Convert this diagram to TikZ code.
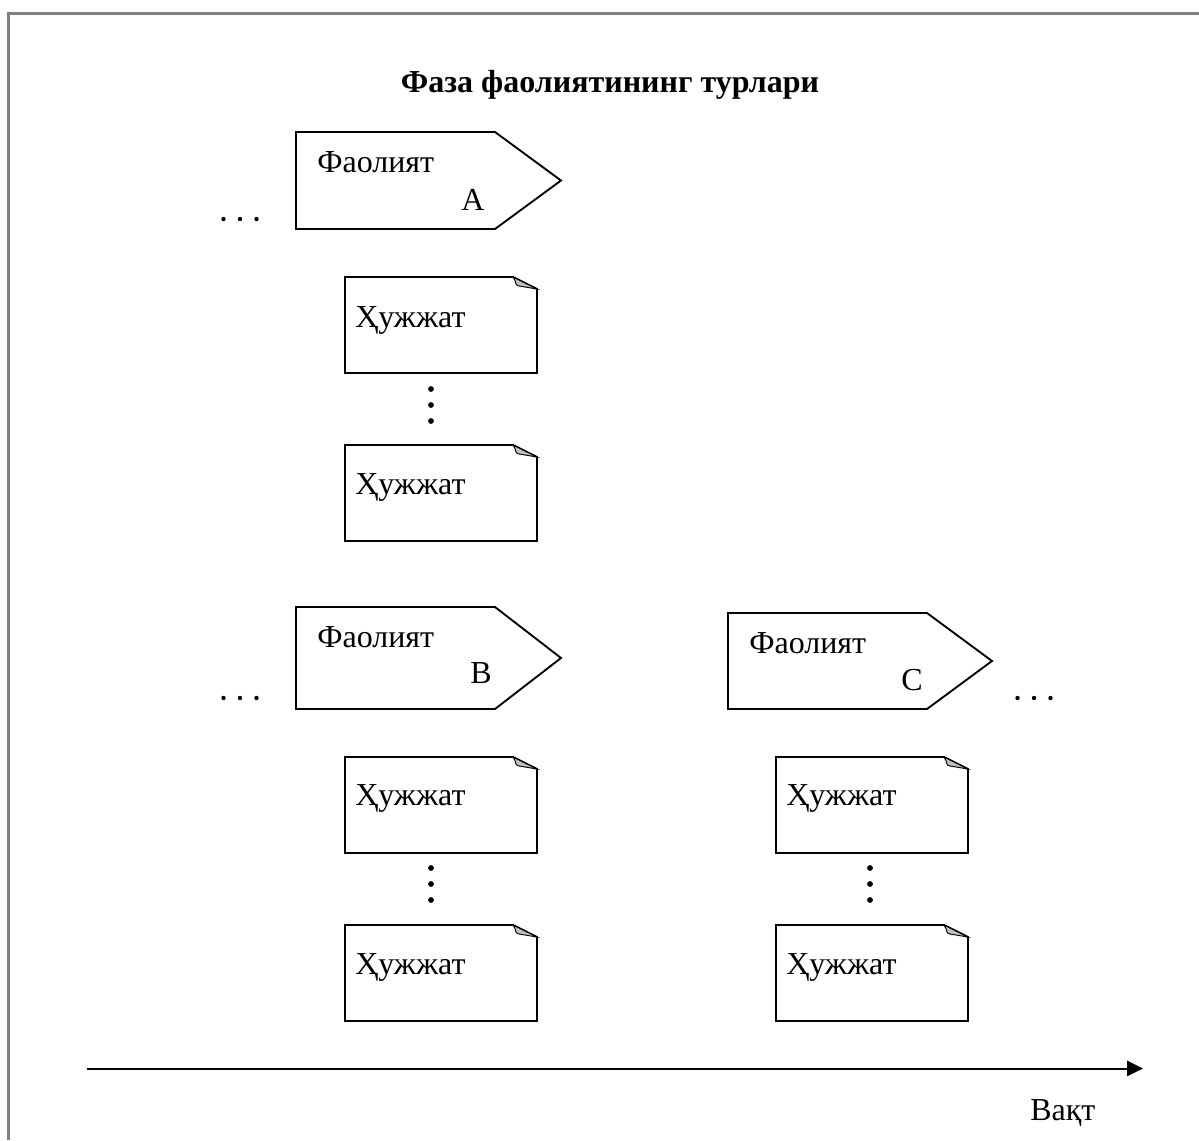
\documentclass[tikz,border=0pt]{standalone}
\usepackage{fontspec}
\setmainfont{Liberation Serif}
\usetikzlibrary{arrows.meta}
\tikzset{
  x=0.75pt,y=-0.75pt,
  shapeline/.style={draw=black,line width=1.4pt,fill=white,line join=miter},
  lbl/.style={inner sep=0pt,font=\fontsize{24}{28}\selectfont,anchor=base west},
  frameline/.style={draw=black!50,line width=1.9pt},
}
\newcommand{\doc}[4]{% name, x, y, baseline offset
  \draw[shapeline] (#2,#3) -- (#2+168,#3) -- (#2+192,#3+12) -- (#2+192,#3+96) -- (#2,#3+96) -- cycle;
  \draw[draw=black,line width=0.7pt,fill=black!25] (#2+168,#3) -- (#2+192,#3+12) -- (#2+174,#3+9) .. controls (#2+169,#3+8) and (#2+172,#3+5) .. (#2+168,#3) -- cycle;
  \node[lbl] (#1) at (#2+10,#3+#4) {Ҳужжат};
}
\newcommand{\act}[8]{% name, x, y-top, height, letter, letter-x, letter baseline, tip offset
  \draw[shapeline] (#2,#3) -- (#2+199,#3) -- (#2+#8,#3+#4/2) -- (#2+199,#3+#4) -- (#2,#3+#4) -- cycle;
  \node[lbl] (#1) at (#2+21,#3+40) {Фаолият};
  \node[lbl] (#1l) at (#2+#6,#7) {#5};
}
\begin{document}
\begin{tikzpicture}
\useasboundingbox (0,0) rectangle (1199,1140);
\draw[frameline] (8.5,1140) -- (8.5,13.5) -- (1199,13.5);
\node[inner sep=0pt,anchor=base,font=\fontsize{24}{28}\selectfont\bfseries] (title) at (610,92) {Фаза фаолиятининг турлари};
\act{actA}{296}{132}{97}{A}{165}{210}{265}
\act{actB}{296}{607}{102}{B}{174}{683}{265}
\act{actC}{728}{613}{96}{C}{173}{690}{264}
\doc{d1}{345}{277}{50}
\doc{d2}{345}{445}{49}
\doc{d3}{345}{757}{48}
\doc{d4}{345}{925}{49}
\doc{d5}{776}{757}{48}
\doc{d6}{776}{925}{49}
\foreach \px/\py in {240/219,240/698,1034/698}{
  \foreach \k in {-1,0,1} \fill (\px+\k*16.5,\py) circle (2.2);
}
\foreach \px/\py in {431/405,431/884,870/884}{
  \foreach \k in {-1,0,1} \fill (\px,\py+\k*16) circle (2.9);
}
\coordinate (tstart) at (87,1068.5);
\coordinate (tend) at (1143,1068.5);
\draw[line width=1.5pt,-{Triangle[length=12pt,width=11.5pt]}] (tstart) -- (tend);
\node[lbl] (vaqt) at (1030,1120) {Вақт};
\end{tikzpicture}
\end{document}
